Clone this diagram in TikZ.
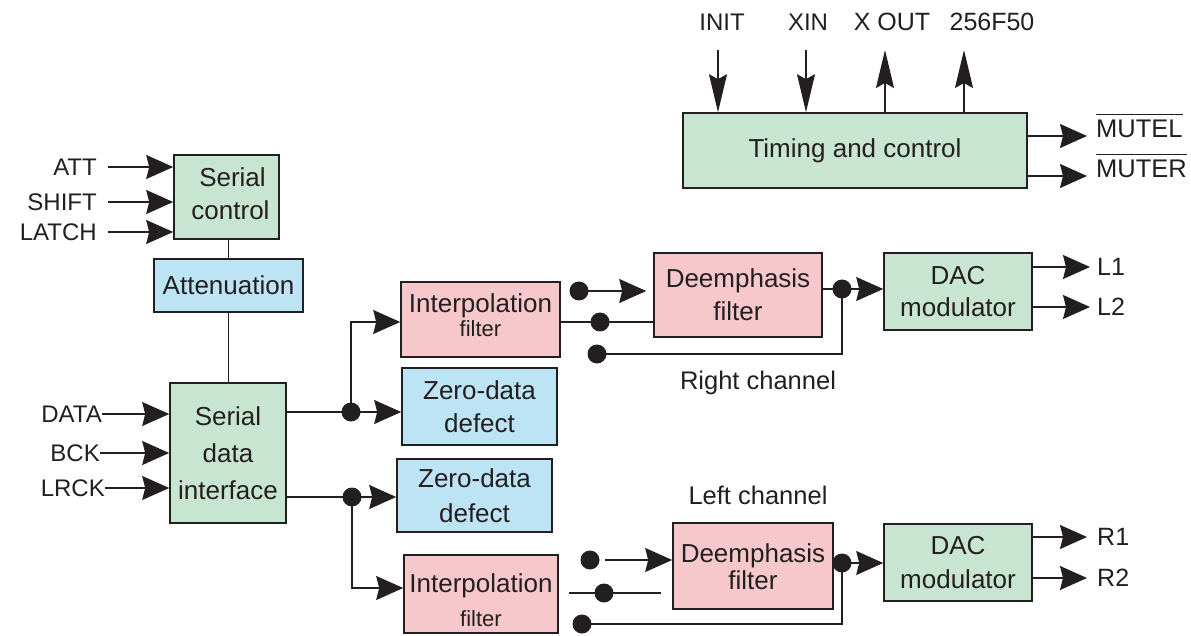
\documentclass[tikz,border=0pt]{standalone}
\usepackage{fontspec}
\setmainfont{Liberation Sans}
\usetikzlibrary{arrows.meta}
\definecolor{bgreen}{RGB}{200,229,209}
\definecolor{bpink}{RGB}{246,200,204}
\definecolor{bblue}{RGB}{189,228,244}
\definecolor{ink}{RGB}{35,31,32}
\newcommand{\barred}[1]{\vbox{\hrule height 1.5pt\kern 5pt\hbox{#1}}}
\newcommand{\movetext}[2]{\raisebox{#1}[\height][\depth]{#2}}
\begin{document}
\begin{tikzpicture}[x=1pt,y=-1pt,
  every node/.style={text=ink},
  blk/.style={draw=ink, line width=1.6pt, inner sep=0pt, align=center,
              font=\fontsize{26}{33}\selectfont},
  gbox/.style={blk, fill=bgreen},
  pbox/.style={blk, fill=bpink},
  bbox/.style={blk, fill=bblue},
  wire/.style={draw=ink, line width=1.5pt},
  arr/.style={wire, -{Stealth[length=27pt,width=24pt,inset=3pt]}},
  varr/.style={wire, -{Stealth[length=38pt,width=18pt,inset=5pt]}},
  jdot/.style={circle, fill=ink, inner sep=0pt, minimum size=19pt},
  pin/.style={inner sep=0pt, font=\fontsize{24}{29}\selectfont},
  chan/.style={inner sep=0pt, font=\fontsize{25.5}{30}\selectfont},
]
\useasboundingbox (0,0) rectangle (1191,636);

% ---------- blocks ----------
\node[gbox, minimum width=344pt, minimum height=75pt] (tc) at (855,150.5) {Timing and control};
\node[gbox, minimum width=105pt, minimum height=84pt] (sc) at (226.5,197) {\movetext{3pt}{\hspace*{12pt}Serial}\\\movetext{3pt}{\hspace*{8pt}control}};
\node[bbox, minimum width=149pt, minimum height=53pt] (attn) at (228.5,285.5) {Attenuation};
\node[gbox, minimum width=116pt, minimum height=140pt, font=\fontsize{26}{37}\selectfont] (sdi) at (228,453) {Serial\\data\\interface};
\node[pbox, minimum width=159pt, minimum height=75pt, font=\fontsize{26}{24}\selectfont] (if1) at (480.5,319.5) {\movetext{4pt}{Interpolation}\\{\fontsize{22}{24}\selectfont\movetext{4pt}{filter}}};
\node[bbox, minimum width=155pt, minimum height=77pt] (zd1) at (479.5,406.5) {Zero-data\\defect};
\node[pbox, minimum width=168pt, minimum height=84pt] (de1) at (738,295) {Deemphasis\\filter};
\node[gbox, minimum width=148pt, minimum height=77pt, font=\fontsize{26}{32}\selectfont] (dac1) at (958,291.5) {DAC\\modulator};
\node[bbox, minimum width=155pt, minimum height=73pt, font=\fontsize{26}{35}\selectfont] (zd2) at (474.5,495.5) {Zero-data\\defect};
\node[pbox, minimum width=154pt, minimum height=78pt, font=\fontsize{26}{34}\selectfont] (if2) at (481,594) {\movetext{-6pt}{Interpolation}\\{\fontsize{22}{34}\selectfont\movetext{-6pt}{filter}}};
\node[pbox, minimum width=160pt, minimum height=86pt, font=\fontsize{26}{25}\selectfont] (de2) at (753,566) {Deemphasis\\\movetext{-2pt}{filter}};
\node[gbox, minimum width=148pt, minimum height=77pt, font=\fontsize{26}{34}\selectfont] (dac2) at (958,562.5) {DAC\\modulator};

% ---------- channel labels ----------
\node[chan, anchor=base] (rch) at (758,389) {Right channel};
\node[chan, anchor=base] (lch) at (758,504) {Left channel};

% ---------- serial control inputs ----------
\node[pin, anchor=east] (att) at (97,167) {ATT};
\node[pin, anchor=east] (shift) at (97,202) {SHIFT};
\node[pin, anchor=east] (latch) at (97,232) {LATCH};
\draw[arr] ([xshift=11pt]att.east) -- (sc.west |- att.east);
\draw[arr] ([xshift=11pt]shift.east) -- (sc.west |- shift.east);
\draw[arr] ([xshift=11pt]latch.east) -- (sc.west |- latch.east);
\draw[wire] (attn.north |- sc.south) -- (attn.north);
\draw[wire] (attn.south) -- (attn.south |- sdi.north);

% ---------- serial data inputs ----------
\node[pin, anchor=east] (data) at (102,414) {DATA};
\node[pin, anchor=east] (bck) at (100,453) {BCK};
\node[pin, anchor=east] (lrck) at (105,488) {LRCK};
\draw[arr] (data.east) -- (sdi.west |- data.east);
\draw[arr] (bck.east) -- (sdi.west |- bck.east);
\draw[arr] (lrck.east) -- (sdi.west |- lrck.east);

% ---------- timing and control ----------
\node[pin] (init) at (722,22) {INIT};
\node[pin] (xin) at (808,22) {XIN};
\node[pin, font=\fontsize{25}{30}\selectfont] (xout) at (892,22) {X OUT};
\node[pin, font=\fontsize{25}{30}\selectfont] (f50) at (992,22) {256F50};
\coordinate (initA) at (718,50);
\coordinate (xinA) at (806,50);
\coordinate (xoutA) at (885,50);
\coordinate (f50A) at (964,50);
\draw[varr] (initA) -- (initA |- tc.north);
\draw[varr] (xinA) -- (xinA |- tc.north);
\draw[varr] (xoutA |- tc.north) -- (xoutA);
\draw[varr] (f50A |- tc.north) -- (f50A);
\node[pin, anchor=base west, font=\fontsize{25.5}{30}\selectfont] (mutel) at (1096,138) {\barred{MUTEL}};
\node[pin, anchor=base west, font=\fontsize{25.5}{30}\selectfont] (muter) at (1096,178) {\barred{MUTER}};
\coordinate (mlA) at (1087,136);
\coordinate (mrA) at (1087,176);
\draw[arr] (tc.east |- mlA) -- (mlA);
\draw[arr] (tc.east |- mrA) -- (mrA);

% ---------- right channel (upper path) ----------
\node[jdot] (jA) at (351,412) {};
\draw[wire] (sdi.east |- jA) -- (jA.center);
\draw[arr] (jA.center) -- (zd1.west |- jA);
\draw[arr] (jA.center) |- ([yshift=-2.5pt]if1.west);
\node[jdot] (u1) at (579,291) {};
\node[jdot] (u2) at (600,322) {};
\node[jdot] (u3) at (597,354) {};
\node[jdot] (uR) at (842,289) {};
\draw[wire] (if1.east |- u2) -- (de1.west |- u2);
\draw[arr] (u1.center) -- ([xshift=-7pt]de1.west |- u1);
\draw[wire] (u3.center) -| (uR.center);
\draw[wire] (de1.east |- uR) -- (uR.center);
\draw[arr] (uR.center) -- (dac1.west |- uR);
\node[pin, anchor=west, font=\fontsize{25}{30}\selectfont] (l1) at (1097,267) {L1};
\node[pin, anchor=west, font=\fontsize{25}{30}\selectfont] (l2) at (1097,307) {L2};
\draw[arr] (dac1.east |- l1.west) -- ([xshift=-7pt]l1.west);
\draw[arr] (dac1.east |- l2.west) -- ([xshift=-7pt]l2.west);

% ---------- left channel (lower path) ----------
\node[jdot] (jB) at (352,497) {};
\draw[wire] (sdi.east |- jB) -- (jB.center);
\draw[arr] (jB.center) -- (zd2.west |- jB);
\draw[arr] (jB.center) |- ([yshift=6pt]if2.west);
\node[jdot] (w1) at (590,560) {};
\node[jdot] (w2) at (604,593) {};
\node[jdot] (w3) at (582,624) {};
\node[jdot] (wR) at (842,563) {};
\draw[wire] ([xshift=10pt]if2.east |- w2) -- ([xshift=-11pt]de2.west |- w2);
\draw[arr] ([xshift=15pt]w1.center) -- (de2.west |- w1);
\draw[wire] (w3.center) -| (wR.center);
\draw[wire] (de2.east |- wR) -- (wR.center);
\draw[arr] (wR.center) -- (dac2.west |- wR);
\node[pin, anchor=west, font=\fontsize{25}{30}\selectfont] (r1) at (1097,537) {R1};
\node[pin, anchor=west, font=\fontsize{25}{30}\selectfont] (r2) at (1097,578) {R2};
\draw[arr] (dac2.east |- r1.west) -- ([xshift=-10pt]r1.west);
\draw[arr] (dac2.east |- r2.west) -- ([xshift=-10pt]r2.west);
\end{tikzpicture}
\end{document}
